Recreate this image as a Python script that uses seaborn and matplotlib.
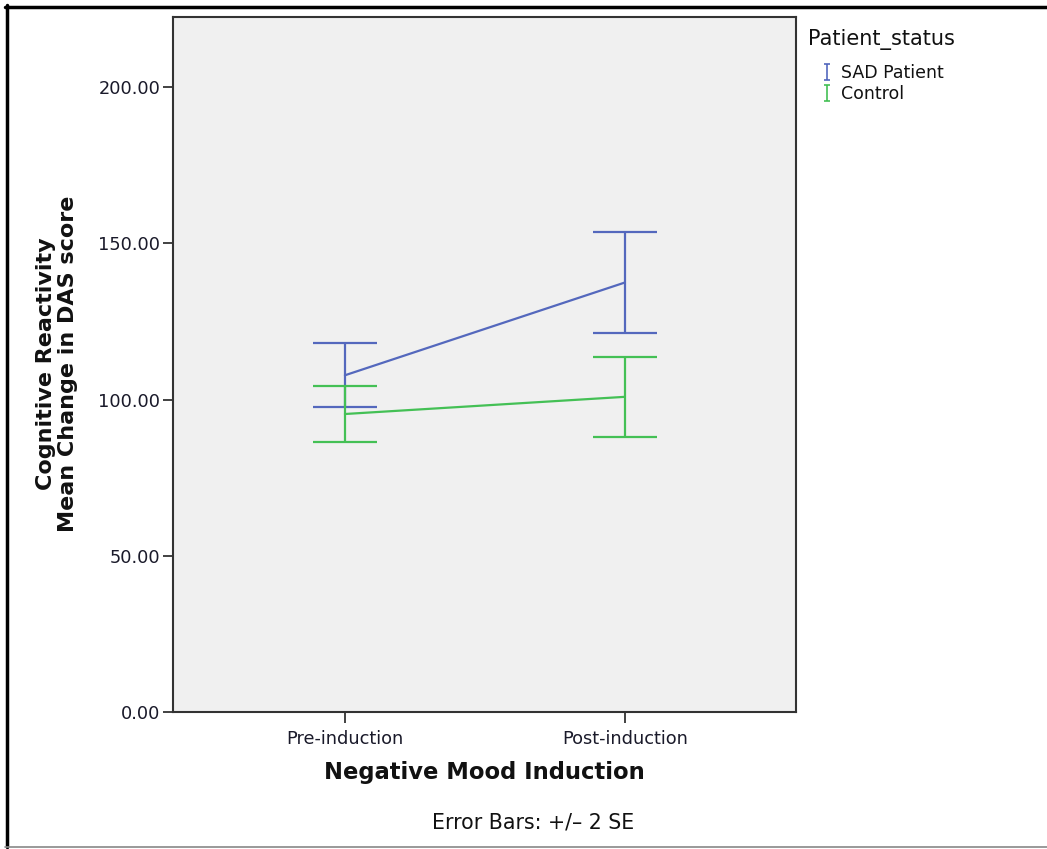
import matplotlib
matplotlib.use("Agg")
import matplotlib.pyplot as plt
from matplotlib.lines import Line2D
from matplotlib.path import Path
import seaborn as sns
import pandas as pd
import numpy as np

# ---- data ----
phases = ["Pre-induction", "Post-induction"]
groups = ["SAD Patient", "Control"]
sad_mean = [107.8, 137.5]
sad_lower = [97.5, 121.4]
sad_upper = [118.0, 153.6]
ctrl_mean = [95.4, 100.9]
ctrl_lower = [86.5, 88.1]
ctrl_upper = [104.3, 113.7]
yticks = [0, 50, 100, 150, 200]

colors = {"SAD Patient": "#5468bd", "Control": "#44c055"}

df = pd.DataFrame({
    "phase": phases * 2,
    "group": [groups[0]] * 2 + [groups[1]] * 2,
    "mean": sad_mean + ctrl_mean,
    "lower": sad_lower + ctrl_lower,
    "upper": sad_upper + ctrl_upper,
})

sns.set_theme(style="white")
plt.rcParams["font.family"] = ["DejaVu Sans"]

fig = plt.figure(figsize=(10.47, 8.49), dpi=100)
ax = fig.add_axes([173 / 1047, 1 - 712 / 849, (796 - 173) / 1047, (712 - 17) / 849])
ax.set_facecolor("#f0f0f0")

sns.pointplot(data=df, x="phase", y="mean", hue="group", order=phases,
              hue_order=groups, palette=colors, markers="", errorbar=None,
              linewidth=1.6, ax=ax, legend=False)

for g in groups:
    sub = df[df["group"] == g].set_index("phase").loc[phases]
    xs = np.arange(len(phases))
    yerr = np.vstack([sub["mean"] - sub["lower"], sub["upper"] - sub["mean"]])
    ax.errorbar(xs, sub["mean"], yerr=yerr, fmt="none", ecolor=colors[g],
                elinewidth=1.6, capsize=22.7, capthick=1.6, zorder=3)

ax.set_xlim(-0.614, 1.611)
ax.set_ylim(0, 222.5)
ax.set_yticks(yticks)
ax.set_yticklabels([f"{v:.2f}" for v in yticks])
ax.tick_params(axis="both", which="both", direction="out", length=7, width=1.3,
               color="#333333", labelsize=12.8, labelcolor="#1a1a2a", left=True, bottom=True)
ax.tick_params(axis="x", length=8, pad=5)
ax.tick_params(axis="y", pad=2)
for s in ax.spines.values():
    s.set_color("#333333")
    s.set_linewidth(1.5)
    s.set_visible(True)

ax.set_xlabel("")
ax.set_ylabel("")
fig.text(484 / 1047, 1 - 772 / 849, "Negative Mood Induction", ha="center", va="center",
         fontsize=16.3, fontweight="bold", color="#111111")
fig.text(57 / 1047, 1 - 364 / 849, "Cognitive Reactivity\nMean Change in DAS score",
         ha="center", va="center", rotation=90, fontsize=16, fontweight="bold",
         color="#111111", linespacing=1.1)
fig.text(533 / 1047, 1 - 823 / 849, "Error Bars: +/\u2013 2 SE", ha="center", va="center",
         fontsize=14.8, color="#111111")

# legend
fig.text(808 / 1047, 1 - 40 / 849, "Patient_status", ha="left", va="center",
         fontsize=15, color="#111111")
ibar = Path([(-0.45, 1), (0.45, 1), (0, 1), (0, -1), (-0.45, -1), (0.45, -1)],
            [Path.MOVETO, Path.LINETO, Path.MOVETO, Path.LINETO, Path.MOVETO, Path.LINETO])
handles = [Line2D([], [], color=colors[g], marker=ibar, linestyle="None",
                  markersize=11, markeredgewidth=1.2) for g in groups]
leg = fig.legend(handles, groups, loc="upper left",
                 bbox_to_anchor=(822 / 1047, 1 - 64 / 849), frameon=False,
                 fontsize=12.5, handlelength=0.6, handletextpad=0.5,
                 labelspacing=0.2, borderpad=0, borderaxespad=0)
for t in leg.get_texts():
    t.set_color("#111111")

# figure frame
fig.add_artist(Line2D([5 / 1047, 1], [1 - 6.5 / 849, 1 - 6.5 / 849], color="black", lw=2.5,
                      transform=fig.transFigure))
fig.add_artist(Line2D([6.5 / 1047, 6.5 / 1047], [1 - 5 / 849, 1 - 847 / 849], color="black", lw=2.5,
                      transform=fig.transFigure))
fig.add_artist(Line2D([5 / 1047, 1], [1 - 847 / 849, 1 - 847 / 849], color="#888888", lw=1.2,
                      transform=fig.transFigure))

fig.savefig("out.png", dpi=100)
